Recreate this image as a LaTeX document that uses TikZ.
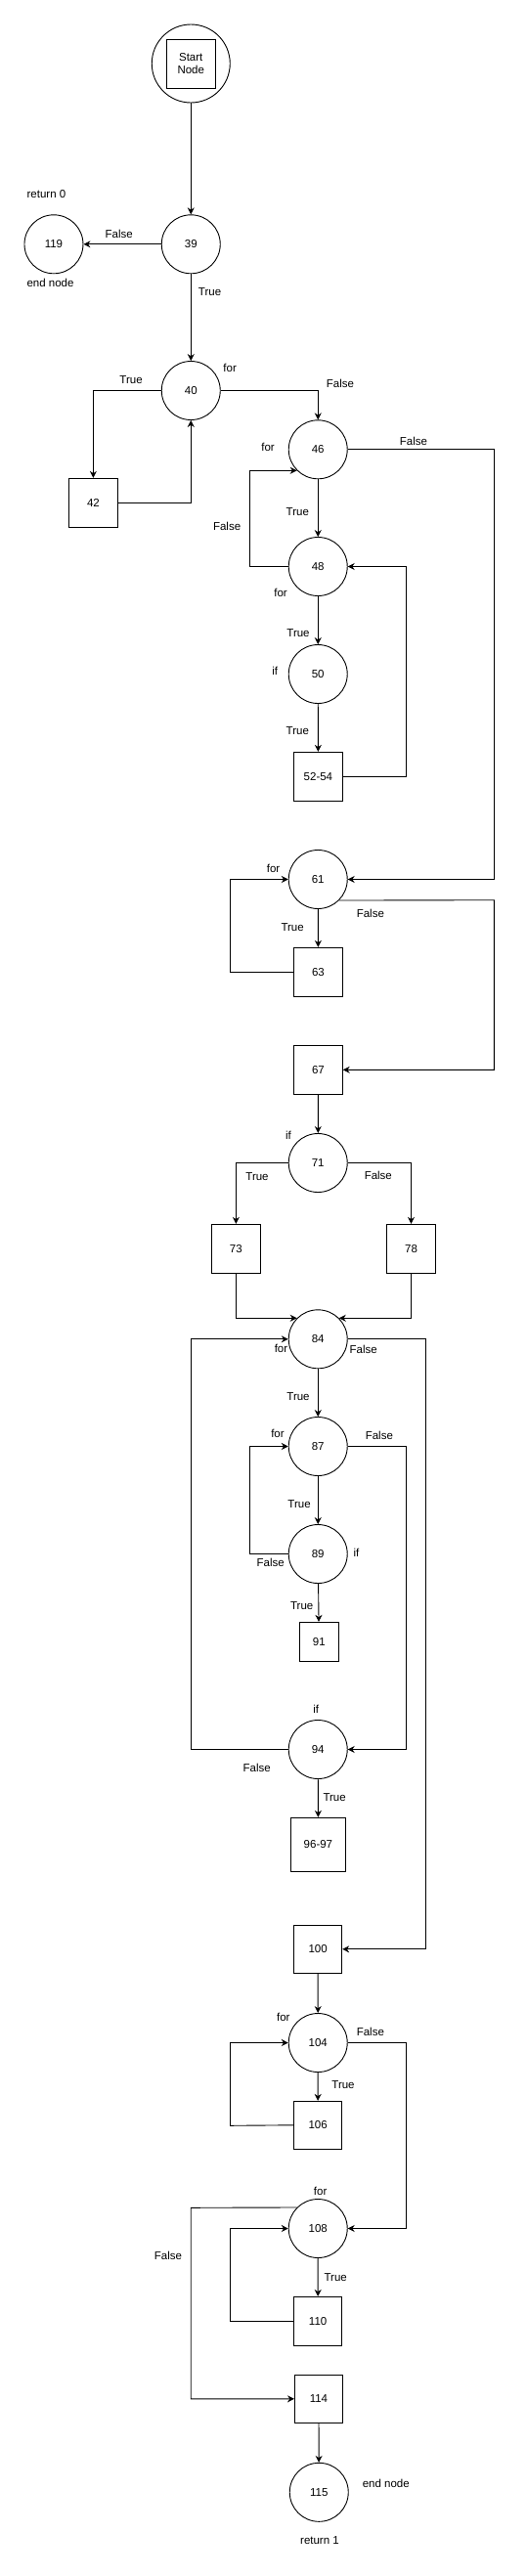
\documentclass[tikz,border=0pt]{standalone}
\usepackage{fontspec}
\setmainfont{Liberation Sans}
\usetikzlibrary{arrows.meta}
\begin{document}
\begin{tikzpicture}[x=1.0315pt,y=-1pt,
  every node/.style={font=\fontsize{11.5}{13.5}\selectfont},
  circ/.style={circle,draw,line width=0.9pt,minimum size=60pt,inner sep=0pt},
  box/.style={rectangle,draw,line width=0.9pt,minimum width=49.7pt,minimum height=50pt,inner sep=0pt},
  lbl/.style={inner sep=0pt},
  ln/.style={line width=0.9pt},
  arr/.style={ln,-{Stealth[length=7pt,width=7pt]}}]
\useasboundingbox (0,0) rectangle (522.54,2635);
% nodes
\node[circ,minimum size=80pt] (start) at (189.3,65) {};
\node[box,align=center] (startbox) at (189.3,65) {Start\\Node};
\node[circ] (n39) at (189.3,249.8) {39};
\node[circ] (n119) at (53.3,249.8) {119};
\node[circ] (n40) at (189.3,399.5) {40};
\node[box] (n42) at (92.5,514.3) {42};
\node[circ] (n46) at (315.3,459.8) {46};
\node[circ] (n48) at (315.3,579.5) {48};
\node[circ] (n50) at (315.3,689.5) {50};
\node[box] (n5254) at (315.5,794.3) {52-54};
\node[circ] (n61) at (315.3,899.5) {61};
\node[box] (n63) at (315.5,994.3) {63};
\node[box] (n67) at (315.5,1094.3) {67};
\node[circ] (n71) at (315.3,1189.5) {71};
\node[box] (n73) at (234,1277.3) {73};
\node[box] (n78) at (407.7,1277.3) {78};
\node[circ] (n84) at (315.3,1369.8) {84};
\node[circ] (n87) at (315.3,1479.5) {87};
\node[circ] (n89) at (315.3,1589.5) {89};
\node[box,minimum width=40pt,minimum height=40pt] (n91) at (316.3,1679.3) {91};
\node[circ] (n94) at (315.3,1789.5) {94};
\node[box,minimum width=55.4pt,minimum height=55pt] (n9697) at (315.5,1886.8) {96-97};
\node[box,minimum width=49.2pt,minimum height=49pt] (n100) at (315.2,1993.8) {100};
\node[circ] (n104) at (315.3,2089.5) {104};
\node[box,minimum width=49.2pt,minimum height=49pt] (n106) at (315.2,2173.8) {106};
\node[circ] (n108) at (315.3,2279.5) {108};
\node[box,minimum width=49.2pt,minimum height=49.7pt] (n110) at (315.2,2374.2) {110};
\node[box,minimum width=48.9pt,minimum height=49pt] (n114) at (316,2453.8) {114};
\node[circ] (n115) at (316.3,2549.3) {115};
% corner coordinates
\coordinate (c46a) at (490,459.8);
\coordinate (c48a) at (247.7,579.5);
\coordinate (c5254a) at (402.7,794.3);
\coordinate (c63a) at (228.3,994.3);
\coordinate (c61a) at (490,920.7);
\coordinate (c84a) at (422.3,1369.8);
\coordinate (c87a) at (402.7,1479.5);
\coordinate (c89a) at (247.7,1589.5);
\coordinate (c94a) at (189.3,1789.5);
\coordinate (c106a) at (228.3,2174.3);
\coordinate (c104a) at (402.7,2089.5);
\coordinate (c108a) at (189.3,2258.3);
\coordinate (c110a) at (228.3,2374.2);
% edges
\draw[arr] (start) -- (n39);
\draw[arr] (n39) -- (n119);
\draw[arr] (n39) -- (n40);
\draw[arr] (n40.west) -| (n42.north);
\draw[arr] (n42.east) -| (n40.south);
\draw[arr] (n40.east) -| (n46.north);
\draw[arr] (n46.east) -- (c46a) |- (n61.east);
\draw[arr] (n46) -- (n48);
\draw[arr] (n48.west) -- (c48a) |- (n46.south west);
\draw[arr] (n48) -- (n50);
\draw[arr] (n50) -- (n5254);
\draw[arr] (n5254.east) -- (c5254a) |- (n48.east);
\draw[arr] (n61) -- (n63);
\draw[arr] (n63.west) -- (c63a) |- (n61.west);
\draw[arr] (n61.south east) -- (c61a) |- (n67.east);
\draw[arr] (n67) -- (n71);
\draw[arr] (n71.west) -| (n73.north);
\draw[arr] (n71.east) -| (n78.north);
\draw[arr] (n73.south) |- (n84.north west);
\draw[arr] (n78.south) |- (n84.north east);
\draw[arr] (n84.east) -- (c84a) |- (n100.east);
\draw[arr] (n84) -- (n87);
\draw[arr] (n87.east) -- (c87a) |- (n94.east);
\draw[arr] (n87) -- (n89);
\draw[arr] (n89.west) -- (c89a) |- (n87.west);
\draw[arr] (n89) -- (n91);
\draw[arr] (n94.west) -- (c94a) |- (n84.west);
\draw[arr] (n94) -- (n9697);
\draw[arr] (n100) -- (n104);
\draw[arr] (n104) -- (n106);
\draw[arr] (n106.west) -- (c106a) |- (n104.west);
\draw[arr] (n104.east) -- (c104a) |- (n108.east);
\draw[arr] (n108.north west) -- (c108a) |- (n114.west);
\draw[arr] (n108) -- (n110);
\draw[arr] (n110.west) -- (c110a) |- (n108.west);
\draw[arr] (n114) -- (n115);
% labels
\node[lbl] (l1) at (46,199) {return 0};
\node[lbl] (l2) at (50,289) {end node};
\node[lbl] (l3) at (118,239) {False};
\node[lbl] (l4) at (208,299) {True};
\node[lbl] (l5) at (228,376.7) {for};
\node[lbl] (l6) at (130,388.7) {True};
\node[lbl] (l7) at (337.3,392.7) {False};
\node[lbl] (l8) at (265.7,457.7) {for};
\node[lbl] (l9) at (410,451.7) {False};
\node[lbl] (l10) at (295,523.7) {True};
\node[lbl] (l11) at (225,538.7) {False};
\node[lbl] (l12) at (278.3,606.7) {for};
\node[lbl] (l13) at (295.7,647.7) {True};
\node[lbl] (l14) at (272.7,686.7) {if};
\node[lbl] (l15) at (295,747.7) {True};
\node[lbl] (l16) at (271,888) {for};
\node[lbl] (l17) at (367.3,934.3) {False};
\node[lbl] (l18) at (290,948.3) {True};
\node[lbl] (l19) at (286,1161.7) {if};
\node[lbl] (l20) at (255,1203.3) {True};
\node[lbl] (l21) at (375,1202.7) {False};
\node[lbl] (l22) at (278.7,1379) {for};
\node[lbl] (l23) at (360.3,1380.7) {False};
\node[lbl] (l24) at (295.7,1428.7) {True};
\node[lbl] (l25) at (275.3,1466.7) {for};
\node[lbl] (l26) at (376,1468.7) {False};
\node[lbl] (l27) at (296.7,1538.7) {True};
\node[lbl] (l28) at (353.3,1588.3) {if};
\node[lbl] (l29) at (268.3,1598.3) {False};
\node[lbl] (l30) at (299.3,1642.3) {True};
\node[lbl] (l31) at (313.3,1748.7) {if};
\node[lbl] (l32) at (254.7,1808.7) {False};
\node[lbl] (l33) at (331.7,1838.7) {True};
\node[lbl] (l34) at (281,2063.7) {for};
\node[lbl] (l35) at (367.3,2078.7) {False};
\node[lbl] (l36) at (340.3,2132.7) {True};
\node[lbl] (l37) at (317.7,2241.7) {for};
\node[lbl] (l38) at (166.7,2307.7) {False};
\node[lbl] (l39) at (332.7,2329.7) {True};
\node[lbl] (l40) at (382.7,2540) {end node};
\node[lbl] (l41) at (317,2598.7) {return 1};
\end{tikzpicture}
\end{document}
